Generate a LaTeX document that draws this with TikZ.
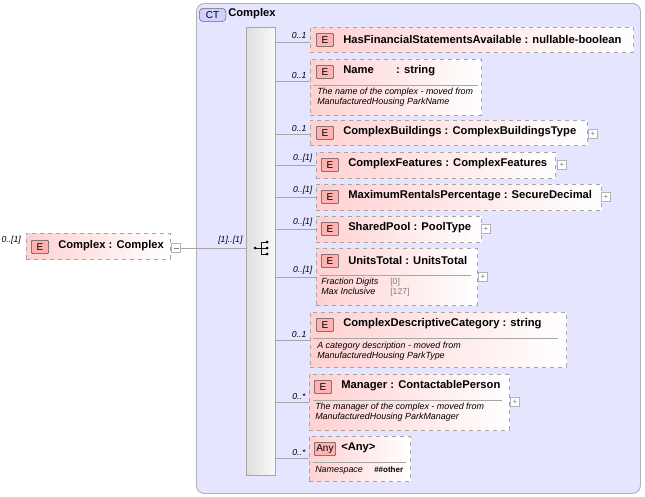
\documentclass[tikz,border=0pt]{standalone}
\usepackage{fontspec}
\setmainfont{Liberation Sans}
\begin{document}
\begin{tikzpicture}[x=0.75pt,y=-0.75pt,
  ebox/.style={draw=gray!70,dashed,line width=0.6pt,left color=red!18,right color=white,inner sep=0},
  badge/.style={draw=black!70,fill=red!30,rounded corners=0.8pt,minimum width=13pt,minimum height=10pt,inner sep=0,font=\fontsize{7.5}{8}\selectfont,anchor=north west},
  lbl/.style={font=\bfseries\fontsize{8.4}{9}\selectfont,anchor=west,inner sep=0},
  doc/.style={font=\itshape\fontsize{6.7}{7.6}\selectfont,anchor=north west,inner sep=0,align=left},
  mult/.style={font=\itshape\fontsize{6.5}{7}\selectfont,anchor=south east,inner sep=1pt},
  plus/.style={draw=gray!60,fill=white,minimum size=7pt,inner sep=0,font=\fontsize{6}{6}\selectfont,text=gray},
  con/.style={draw=gray!70,line width=0.6pt},
  sep/.style={draw=gray!70,line width=0.5pt}]
\useasboundingbox (0,0) rectangle (645,496);
\newcommand{\ebx}[5]{\node[ebox,anchor=north west,minimum width=#4*0.75pt,minimum height=#5*0.75pt] (#1) at (#2,#3) {};}
% CT box
\node[draw=gray!60,fill=blue!10,rounded corners=6pt,anchor=north west,minimum width=444*0.75pt,minimum height=490*0.75pt,line width=0.7pt] (ct) at (196,3) {};
\node[draw=black!60,fill=blue!18,rounded corners=3pt,anchor=north west,minimum width=20pt,minimum height=10pt,inner sep=0,font=\fontsize{7.5}{8}\selectfont] (ctb) at (199,8) {CT};
\node[lbl] (ctl) at (228,14) {Complex};
% sequence bar
\node[draw=gray!70,left color=gray!25,right color=gray!5,anchor=north west,minimum width=29*0.75pt,minimum height=448*0.75pt,inner sep=0] (seq) at (246,27) {};
\node[inner sep=0] (seqi) at (262,248) {};
\draw[gray!20!black,line width=0.6pt] (255,248) -- (261,248) (261,242) -- (261,254) (261,242)--(267,242) (261,248)--(267,248) (261,254)--(267,254);
\fill[black] (255,248) circle (1.5) (267,242) circle (1.5) (267,248) circle (1.5) (267,254) circle (1.5);
% root element
\ebx{root}{26}{233}{144}{26}
\node[badge] (rb) at (31,240) {E};
\node[lbl] (rl) at (58,246) {Complex : Complex};
\node[mult,anchor=south west] (rm) at (0,246) {0..[1]};
\node[draw=gray!60,fill=white,minimum size=7pt,inner sep=0] (minus) at (176,248) {};
\draw[gray] (173.5,248)--(178.5,248);
\draw[con] (minus.east) -- (seq.west |- minus.east);
\node[mult] (sm) at (244,246) {[1]..[1]};
% 1
\ebx{c1}{310}{27}{323}{25}
\node[badge] at (316,33) {E};
\node[lbl] at (343,39) {HasFinancialStatementsAvailable : nullable-boolean};
\coordinate (k1) at (310,42); \draw[con] (seq.east |- k1) -- (k1);
\node[mult] at (308,40) {0..1};
% 2
\ebx{c2}{310}{59}{171}{56}
\node[badge] at (316,65) {E};
\node[lbl] at (343,71) {Name\hspace{2em}: string};
\draw[sep] (313,85) -- (478,85);
\node[doc] at (317,88) {The name of the complex - moved from\\ManufacturedHousing ParkName};
\coordinate (k2) at (310,81); \draw[con] (seq.east |- k2) -- (k2);
\node[mult] at (308,80) {0..1};
% 3
\ebx{c3}{310}{120}{277}{25}
\node[badge] at (316,126) {E};
\node[lbl] at (343,132) {ComplexBuildings : ComplexBuildingsType};
\node[plus] (p3) at (593,134) {+};
\coordinate (k3) at (310,134); \draw[con] (seq.east |- k3) -- (k3);
\node[mult] at (308,133) {0..1};
% 4
\ebx{c4}{316}{152}{239}{26}
\node[badge] at (321,158) {E};
\node[lbl] at (348,164) {ComplexFeatures : ComplexFeatures};
\node[plus] (p4) at (562,165) {+};
\coordinate (k4) at (316,165); \draw[con] (seq.east |- k4) -- (k4);
\node[mult] at (314,164) {0..[1]};
% 5
\ebx{c5}{316}{184}{285}{26}
\node[badge] at (321,190) {E};
\node[lbl] at (348,196) {MaximumRentalsPercentage : SecureDecimal};
\node[plus] (p5) at (606,197) {+};
\coordinate (k5) at (316,197); \draw[con] (seq.east |- k5) -- (k5);
\node[mult] at (314,196) {0..[1]};
% 6
\ebx{c6}{316}{216}{165}{26}
\node[badge] at (321,222) {E};
\node[lbl] at (348,228) {SharedPool : PoolType};
\node[plus] (p6) at (486,229) {+};
\coordinate (k6) at (316,229); \draw[con] (seq.east |- k6) -- (k6);
\node[mult] at (314,228) {0..[1]};
% 7
\ebx{c7}{316}{248}{161}{57}
\node[badge] at (321,254) {E};
\node[lbl] at (348,260) {UnitsTotal : UnitsTotal};
\draw[sep] (320,275) -- (471,275);
\node[doc] at (321,278) {Fraction Digits\\Max Inclusive};
\node[doc,font=\fontsize{6.5}{7.6}\selectfont,text=gray] at (390,278) {{[0]}\\{[127]}};
\node[plus] (p7) at (483,277) {+};
\coordinate (k7) at (316,277); \draw[con] (seq.east |- k7) -- (k7);
\node[mult] at (314,276) {0..[1]};
% 8
\ebx{c8}{310}{312}{256}{55}
\node[badge] at (316,318) {E};
\node[lbl] at (343,324) {ComplexDescriptiveCategory : string};
\draw[sep] (313,338) -- (558,338);
\node[doc] at (317,342) {A category description - moved from\\ManufacturedHousing ParkType};
\coordinate (k8) at (310,340); \draw[con] (seq.east |- k8) -- (k8);
\node[mult] at (308,339) {0..1};
% 9
\ebx{c9}{309}{374}{200}{56}
\node[badge] at (314,380) {E};
\node[lbl] at (341,386) {Manager : ContactablePerson};
\draw[sep] (313,400) -- (502,400);
\node[doc] at (315,403) {The manager of the complex - moved from\\ManufacturedHousing ParkManager};
\node[plus] (p9) at (515,402) {+};
\coordinate (k9) at (309,402); \draw[con] (seq.east |- k9) -- (k9);
\node[mult] at (307,401) {0..*};
% 10
\ebx{c10}{309}{436}{101}{45}
\node[badge,minimum width=16pt] at (314,442) {Any};
\node[lbl] at (341,448) {<Any>};
\draw[sep] (313,462) -- (406,462);
\node[doc] at (315,466) {Namespace};
\node[doc,font=\bfseries\fontsize{6}{7}\selectfont] at (374,466) {\#\#other};
\coordinate (k10) at (309,458); \draw[con] (seq.east |- k10) -- (k10);
\node[mult] at (307,457) {0..*};
\end{tikzpicture}
\end{document}
